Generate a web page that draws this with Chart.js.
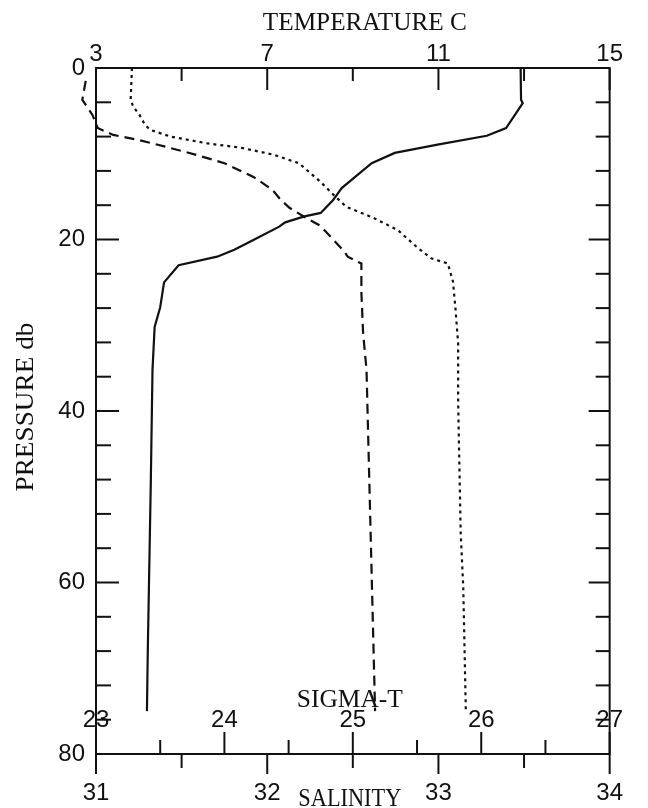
<!DOCTYPE html>
<html>
<head>
<meta charset="utf-8">
<script src="https://cdn.jsdelivr.net/npm/chart.js@4.4.0/dist/chart.umd.min.js"></script>
<style>
  html, body { margin: 0; padding: 0; background: #fff; }
  #wrap { width: 648px; height: 808px; }
</style>
</head>
<body>
<div id="wrap"><canvas id="ctd"></canvas></div>
<script>
// --- profile data (pressure in db) ---
const tempP = [0, 3.7, 4.1, 7.0, 7.9, 8.9, 9.9, 11.1, 14.0, 15.4, 16.9, 17.3, 18.0, 18.5, 20.0, 21.2, 22.0, 23.0, 25.0, 27.9, 30.2, 35.2, 48.4, 67.9, 75.0];
const tempC = [12.92, 12.93, 12.97, 12.58, 12.13, 11.01, 9.98, 9.44, 8.74, 8.54, 8.25, 7.87, 7.42, 7.28, 6.70, 6.23, 5.83, 4.93, 4.59, 4.50, 4.37, 4.32, 4.28, 4.21, 4.19];

const salP = [1.5, 3.7, 5.5, 7.0, 7.8, 8.4, 9.2, 10.1, 11.1, 12.7, 14.2, 15.4, 16.3, 17.4, 18.4, 20.1, 21.4, 22.0, 22.8, 23.9, 26.2, 30.9, 35.2, 75.0];
const salV = [30.94, 30.92, 30.98, 31.01, 31.10, 31.25, 31.41, 31.58, 31.75, 31.92, 32.03, 32.08, 32.13, 32.22, 32.31, 32.39, 32.45, 32.47, 32.55, 32.55, 32.55, 32.56, 32.58, 32.63];

const sigP = [0, 3.7, 4.5, 5.5, 6.6, 7.2, 8.0, 8.8, 9.3, 10.1, 11.1, 13.3, 14.8, 16.2, 17.4, 18.9, 20.9, 22.2, 22.8, 24.9, 28.2, 32.1, 38.7, 46.5, 54.2, 60.6, 75.0];
const sigV = [23.28, 23.27, 23.29, 23.34, 23.38, 23.42, 23.58, 23.87, 24.13, 24.38, 24.58, 24.75, 24.85, 24.95, 25.15, 25.35, 25.50, 25.61, 25.74, 25.78, 25.80, 25.82, 25.82, 25.83, 25.84, 25.86, 25.88];

// tick labels
const tempLabels = [3, 7, 11, 15];
const pressureLabels = [0, 20, 40, 60, 80];
const salinityLabels = [31, 32, 33, 34];
const sigmaLabels = [23, 24, 25, 26, 27];
const sigmaTicks = [23, 23.5, 24, 24.5, 25, 25.5, 26, 26.5, 27];

const ink = '#111';
const numFont = '"Liberation Sans", Arial, sans-serif';
const titleFont = '"Liberation Serif", "Times New Roman", serif';

function pts(ps, vs) {
    return ps.map((p, i) => ({ x: vs[i], y: p }));
}

// serif captions squeezed to the width they have in the original
function fitText(ctx, text, x, y, width, angle) {
    ctx.save();
    ctx.translate(x, y);
    if (angle) ctx.rotate(angle);
    const w = ctx.measureText(text).width;
    ctx.scale(width / w, 1);
    ctx.fillText(text, 0, 0);
    ctx.restore();
}

// frame, inward/outward ticks, sigma-t axis and titles
const frameAndTicks = {
    id: 'frameAndTicks',
    afterDraw(chart) {
        const { ctx, chartArea: a, scales } = chart;
        const line = (x1, y1, x2, y2) => {
            ctx.beginPath(); ctx.moveTo(x1, y1); ctx.lineTo(x2, y2); ctx.stroke();
        };
        const cx = (a.left + a.right) / 2;
        ctx.save();
        ctx.fillStyle = ink;

        // sigma-t labels sit just above the bottom border
        ctx.font = '24px ' + numFont;
        ctx.textAlign = 'center';
        ctx.textBaseline = 'alphabetic';
        sigmaLabels.forEach(v => ctx.fillText(String(v), scales.xG.getPixelForValue(v), a.bottom - 27));

        // titles
        ctx.font = '25px ' + titleFont;
        fitText(ctx, 'TEMPERATURE C', cx + 12, a.top - 38, 204);
        fitText(ctx, 'SIGMA-T', cx - 3, a.bottom - 47, 106);
        fitText(ctx, 'SALINITY', cx - 3, a.bottom + 52, 103);
        fitText(ctx, 'PRESSURE db', 33, (a.top + a.bottom) / 2 - 4, 169, -Math.PI / 2);

        ctx.strokeStyle = ink;
        ctx.lineWidth = 2;
        ctx.strokeRect(a.left, a.top, a.right - a.left, a.bottom - a.top);

        scales.xT.ticks.forEach(t => {
            const x = scales.xT.getPixelForValue(t.value);
            line(x, a.top, x, a.top + (tempLabels.includes(t.value) ? 22 : 13));
        });
        scales.y.ticks.forEach(t => {
            const y = scales.y.getPixelForValue(t.value);
            const major = pressureLabels.includes(t.value);
            line(a.left, y, a.left + (major ? 23 : 15), y);
            line(a.right, y, a.right - (major ? 21 : 14), y);
        });
        scales.xS.ticks.forEach(t => {
            const x = scales.xS.getPixelForValue(t.value);
            line(x, a.bottom, x, a.bottom + (salinityLabels.includes(t.value) ? 20 : 14));
        });
        sigmaTicks.forEach(v => {
            const x = scales.xG.getPixelForValue(v);
            line(x, a.bottom, x, a.bottom - (sigmaLabels.includes(v) ? 22 : 14));
        });
        ctx.restore();
    }
};

new Chart(document.getElementById('ctd'), {
    type: 'scatter',
    data: {
        datasets: [
            {
                label: 'Temperature',
                data: pts(tempP, tempC),
                xAxisID: 'xT', yAxisID: 'y',
                showLine: true, borderColor: ink, borderWidth: 2.2,
                pointRadius: 0, tension: 0
            },
            {
                label: 'Salinity',
                data: pts(salP, salV),
                xAxisID: 'xS', yAxisID: 'y',
                showLine: true, borderColor: ink, borderWidth: 2.2,
                borderDash: [10, 6], pointRadius: 0, tension: 0,
                clip: false
            },
            {
                label: 'Sigma-t',
                data: pts(sigP, sigV),
                xAxisID: 'xG', yAxisID: 'y',
                showLine: true, borderColor: ink, borderWidth: 2.2,
                borderDash: [3, 4], pointRadius: 0, tension: 0
            }
        ]
    },
    options: {
        responsive: true,
        maintainAspectRatio: false,
        animation: false,
        layout: { padding: 0 },
        plugins: { legend: { display: false }, tooltip: { enabled: false } },
        scales: {
            y: {
                type: 'linear', position: 'left', reverse: true, min: 0, max: 80,
                ticks: {
                    stepSize: 4, autoSkip: false, padding: 11, color: ink,
                    font: { family: numFont, size: 24 },
                    callback: v => pressureLabels.includes(v) ? String(v) : ''
                },
                grid: { display: false, drawTicks: false },
                border: { display: false },
                afterFit: s => { s.width = 96; }
            },
            y2: {
                type: 'linear', position: 'right', reverse: true, min: 0, max: 80,
                ticks: { display: false },
                grid: { display: false, drawTicks: false },
                border: { display: false },
                afterFit: s => { s.width = 17; }
            },
            xT: {
                type: 'linear', position: 'top', min: 3, max: 15,
                ticks: {
                    stepSize: 2, autoSkip: false, padding: -1, maxRotation: 0, color: ink,
                    font: { family: numFont, size: 24 },
                    callback: v => tempLabels.includes(v) ? String(v) : ''
                },
                grid: { display: false, drawTicks: false },
                border: { display: false },
                afterFit: s => { s.height = 68; }
            },
            xS: {
                type: 'linear', position: 'bottom', min: 31, max: 34,
                ticks: {
                    stepSize: 0.5, autoSkip: false, padding: 25, maxRotation: 0, color: ink,
                    font: { family: numFont, size: 24 },
                    callback: v => salinityLabels.includes(v) ? String(v) : ''
                },
                grid: { display: false, drawTicks: false },
                border: { display: false },
                afterFit: s => { s.height = 54; }
            },
            xG: {
                type: 'linear', position: 'bottom', min: 23, max: 27,
                display: false
            }
        }
    },
    plugins: [frameAndTicks]
});
</script>
</body>
</html>
